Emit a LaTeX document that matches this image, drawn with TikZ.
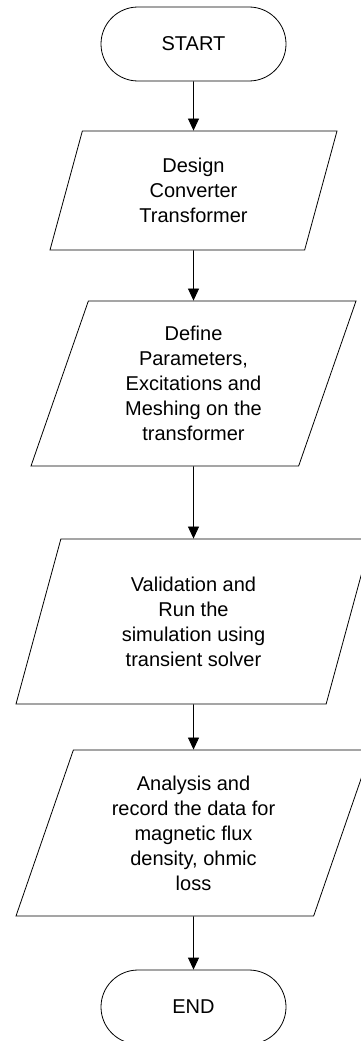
\documentclass[tikz,border=0pt]{standalone}
\usepackage{fontspec}
\setmainfont{Liberation Sans}
\usetikzlibrary{shapes.geometric,arrows.meta}

\tikzset{
 termbox/.style={draw,line width=.8pt,rounded corners=37pt,minimum width=185pt,minimum height=74pt,inner sep=0pt},
 iobox/.style={draw,line width=.8pt,trapezium,trapezium left angle=63.43,trapezium right angle=116.57,
  trapezium stretches body,inner sep=0pt,align=center},
 flow/.style={line width=.8pt,-{Triangle[length=12pt,width=11pt]}}
}

\begin{document}
\begin{tikzpicture}[x=1pt,y=-1pt,font=\fontsize{20}{25}\selectfont]
\useasboundingbox (0,0) rectangle (360,1041);
\node[termbox] (start) at (193.5,44) {START};
\node[iobox,minimum width=287pt,minimum height=119pt] (design) at (193.5,190.5) {Design\\Converter\\Transformer};
\node[iobox,minimum width=325pt,minimum height=165pt] (define) at (193.5,383.5) {Define\\Parameters,\\Excitations and\\Meshing on the\\transformer};
\node[iobox,minimum width=355pt,minimum height=165pt] (valid) at (193.5,621.5) {Validation and\\Run the\\simulation using\\transient solver};
\node[iobox,minimum width=355pt,minimum height=166pt] (analysis) at (193.5,833) {Analysis and\\record the data for\\magnetic flux\\density, ohmic\\loss};
\node[termbox] (stop) at (193.5,1007) {END};
\foreach \a/\b in {start/design,design/define,define/valid,valid/analysis,analysis/stop}
 \draw[flow] (\a) -- (\b);
\end{tikzpicture}
\end{document}
